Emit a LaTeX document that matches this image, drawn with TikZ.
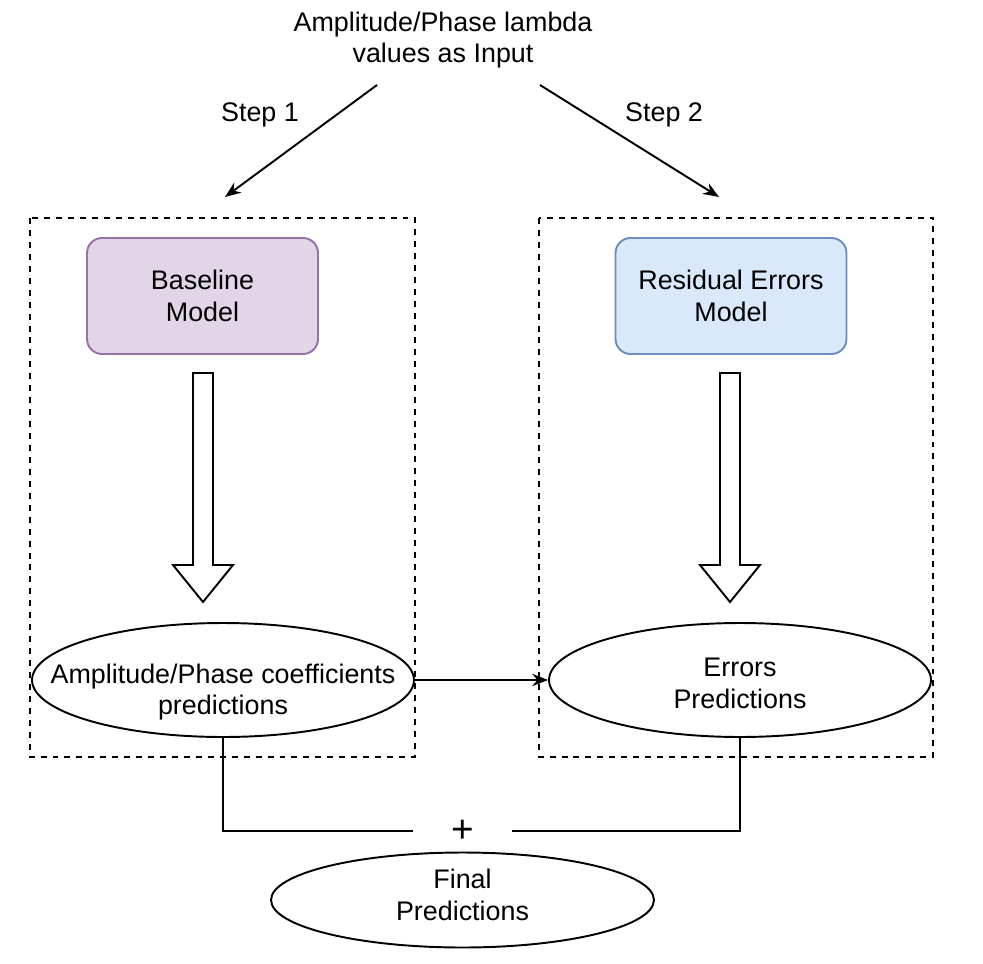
\documentclass[tikz,border=0pt]{standalone}
\usepackage{fontspec}
\setmainfont{Liberation Sans}
\usetikzlibrary{arrows.meta,shapes.geometric}
\definecolor{basefill}{HTML}{E1D5E7}
\definecolor{basedraw}{HTML}{9673A6}
\definecolor{resfill}{HTML}{DAE8FC}
\definecolor{resdraw}{HTML}{6C8EBF}

\begin{document}
\begin{tikzpicture}[x=0.02cm,y=-0.02cm,line width=1.1pt,
    font=\fontsize{15.3}{18.1}\selectfont,
    every node/.style={align=center},
    modelbox/.style={draw,rounded corners=0.3cm,minimum width=4.62cm,minimum height=2.32cm},
    oval/.style={draw,ellipse,inner sep=0pt,minimum width=7.64cm,minimum height=2.28cm},
    thin arrow/.style={-{Stealth[length=9pt,width=7pt]}},
    dashed box/.style={dash pattern=on 3.4pt off 3.4pt}]
                \useasboundingbox (0,0) rectangle (983,963);

                % input and the two steps
                \node (input) at (443,40) {Amplitude/Phase lambda\\values as Input};
                \coordinate (in1) at (377,85);
                \coordinate (in2) at (540,85);
                \coordinate (to1) at (225,197);
                \coordinate (to2) at (719,197);
                \draw [thin arrow] (in1) -- (to1);
                \draw [thin arrow] (in2) -- (to2);
                \node (step1) at (260,115) {Step 1};
                \node (step2) at (664,115) {Step 2};

                \draw [dashed box] (30,218) rectangle (415,757);
                \draw [dashed box] (539,218) rectangle (933,757);

                % models
                \node [modelbox, fill=basefill, draw=basedraw] (base) at (202.5,296) {Baseline\\Model};
                \node [modelbox, fill=resfill, draw=resdraw] (res) at (731,296) {Residual Errors\\Model};

                % big hollow arrows
                \foreach \x in {203,730}
                    \draw [fill=white] (\x-10,373) -- (\x+10,373) -- (\x+10,565) -- (\x+30,565)
                        -- (\x,602) -- (\x-30,565) -- (\x-10,565) -- cycle;

                % predictions
                \node [oval, label={[shift={(0,12)}]center:Amplitude/Phase coefficients\\predictions}] (coef) at (223,680) {};
                \node [oval, label={[shift={(0,3)}]center:Errors\\Predictions}] (err) at (740,680) {};
                \draw [thin arrow] (coef.east) -- (err.west);

                \node [inner sep=0pt, minimum width=1.94cm, font=\fontsize{22}{22}\selectfont] (plus) at (462.5,831) {+};
                \draw (coef.south) |- (plus.west);
                \draw (err.south) |- (plus.east);

                \node [oval, minimum width=7.66cm, minimum height=1.9cm,
                       label={[shift={(0,-5)}]center:Final\\Predictions}] (final) at (462.5,900) {};
            \end{tikzpicture}
\end{document}
